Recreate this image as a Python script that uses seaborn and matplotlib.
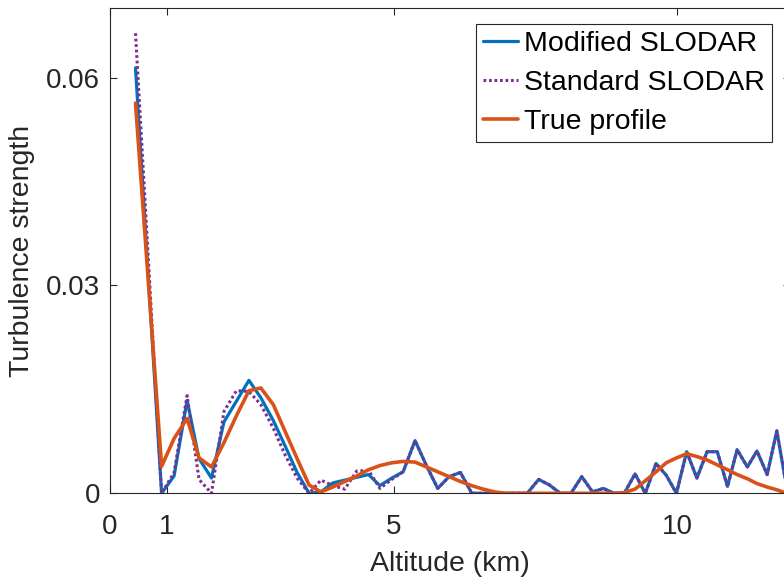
import numpy as np
import pandas as pd
import matplotlib
matplotlib.use("Agg")
import matplotlib.pyplot as plt
import seaborn as sns

# ── Data ─────────────────────────────────────────────────────────────────────
altitude_km = [
    0.45, 0.91, 1.13, 1.36, 1.57, 1.79, 2.01, 2.23, 2.45, 2.66,
    2.88, 3.09, 3.30, 3.51, 3.72, 3.93, 4.14, 4.35, 4.56, 4.76,
    4.97, 5.17, 5.38, 5.58, 5.78, 5.98, 6.18, 6.38, 6.58, 6.78,
    6.97, 7.17, 7.36, 7.56, 7.75, 7.94, 8.13, 8.32, 8.51, 8.70,
    8.89, 9.07, 9.26, 9.44, 9.63, 9.81, 9.99, 10.17, 10.35, 10.53,
    10.71, 10.89, 11.06, 11.24, 11.41, 11.59, 11.76, 11.93,
]

modified_slodar = [
    0.0614, 0.0, 0.0025, 0.0134, 0.0050, 0.0022, 0.0103, 0.0133, 0.0163, 0.0138,
    0.0105, 0.0068, 0.0030, 0.0, 0.0002, 0.0015, 0.0019, 0.0023, 0.0027, 0.0011,
    0.0022, 0.0031, 0.0076, 0.0040, 0.0007, 0.0024, 0.0030, 0.0, 0.0, 0.0,
    0.0, 0.0, 0.0, 0.0020, 0.0012, 0.0, 0.0, 0.0024, 0.0002, 0.0007,
    0.0, 0.0, 0.0028, 0.0, 0.0043, 0.0026, 0.0, 0.0060, 0.0022, 0.0060,
    0.0060, 0.0010, 0.0063, 0.0038, 0.0061, 0.0027, 0.0090, 0.0010,
]

standard_slodar = [
    0.0664, 0.0, 0.0030, 0.0141, 0.0020, 0.0, 0.0118, 0.0148, 0.0147, 0.0128,
    0.0094, 0.0055, 0.0022, 0.0, 0.0019, 0.0011, 0.0006, 0.0032, 0.0033, 0.0007,
    0.0020, 0.0031, 0.0076, 0.0040, 0.0007, 0.0024, 0.0030, 0.0, 0.0, 0.0,
    0.0, 0.0, 0.0, 0.0020, 0.0012, 0.0, 0.0, 0.0024, 0.0002, 0.0007,
    0.0, 0.0, 0.0028, 0.0, 0.0043, 0.0026, 0.0, 0.0060, 0.0022, 0.0060,
    0.0060, 0.0010, 0.0063, 0.0038, 0.0061, 0.0027, 0.0090, 0.0010,
]

true_profile = [
    0.0563, 0.0039, 0.0079, 0.0108, 0.0051, 0.0038, 0.0073, 0.0112, 0.0148, 0.0152,
    0.0128, 0.0089, 0.0050, 0.0012, 0.0002, 0.0009, 0.0017, 0.0025, 0.0034, 0.0040,
    0.0044, 0.0046, 0.0045, 0.0038, 0.0031, 0.0024, 0.0017, 0.0011, 0.0006, 0.0002,
    0.0, 0.0, 0.0, 0.0, 0.0, 0.0, 0.0, 0.0, 0.0, 0.0,
    0.0, 0.0001, 0.0006, 0.0018, 0.0031, 0.0044, 0.0051, 0.0057, 0.0053, 0.0048,
    0.0041, 0.0034, 0.0027, 0.0021, 0.0014, 0.0009, 0.0005, 0.0,
]

x_ticks = [0, 1, 5, 10]
x_tick_labels = ["0", "1", "5", "10"]
y_ticks = [0, 0.03, 0.06]
y_tick_labels = ["0", "0.03", "0.06"]

df = pd.DataFrame({
    "altitude": altitude_km,
    "modified": modified_slodar,
    "standard": standard_slodar,
    "true": true_profile,
})

# ── Style ────────────────────────────────────────────────────────────────────
sns.set_theme(style="ticks")
plt.rcParams["font.family"] = ["Liberation Sans", "DejaVu Sans"]
AX_COLOR = "#262626"
plt.rcParams.update({
    "axes.edgecolor": AX_COLOR,
    "axes.linewidth": 0.8,
    "xtick.color": AX_COLOR,
    "ytick.color": AX_COLOR,
    "text.color": AX_COLOR,
    "axes.labelcolor": AX_COLOR,
})

fig = plt.figure(figsize=(7.84, 5.77), dpi=100)
ax = fig.add_axes([0.1403, 0.1451, 0.8679, 0.8406])

sns.lineplot(data=df, x="altitude", y="modified", ax=ax, color="#0072BD",
             lw=2.3, label="Modified SLODAR")
sns.lineplot(data=df, x="altitude", y="standard", ax=ax, color="#7E2F8E",
             lw=2.2, linestyle=(0, (0.9, 0.9)), label="Standard SLODAR")
sns.lineplot(data=df, x="altitude", y="true", ax=ax, color="#D95319",
             lw=2.6, label="True profile")

ax.set_xlim(0, 12)
ax.set_ylim(0, 0.07)
ax.set_xticks(x_ticks)
ax.set_xticklabels(x_tick_labels)
ax.set_yticks(y_ticks)
ax.set_yticklabels(y_tick_labels)
ax.tick_params(direction="in", length=5, width=0.8, top=True, right=True,
               labelsize=20)
ax.tick_params(axis="x", pad=15)
ax.tick_params(axis="y", pad=7)
for side in ["top", "right", "left", "bottom"]:
    ax.spines[side].set_visible(True)

ax.set_xlabel("Altitude (km)", fontsize=20.5, labelpad=8)
ax.set_ylabel("Turbulence strength", fontsize=20.5, labelpad=8)

leg = ax.legend(loc="upper right", bbox_to_anchor=(772 / 784, 1 - 24 / 577),
                bbox_transform=fig.transFigure, borderaxespad=0,
                frameon=True, fancybox=False, framealpha=1,
                edgecolor=AX_COLOR, fontsize=20.5, borderpad=0.25,
                labelspacing=0.45, handlelength=1.25, handletextpad=0.2)
leg.get_frame().set_linewidth(0.8)
for t in leg.get_texts():
    t.set_color("black")

fig.savefig("out.png", dpi=100)
